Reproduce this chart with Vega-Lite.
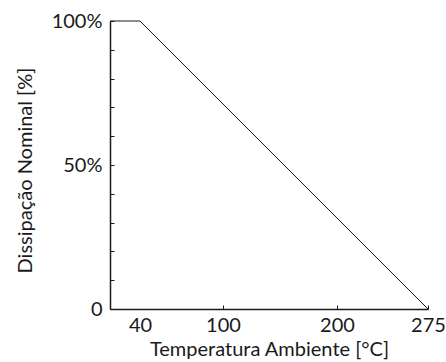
{
  "$schema": "https://vega.github.io/schema/vega-lite/v6.json",
  "width": 318,
  "height": 288,
  "autosize": {"type": "none"},
  "padding": {"left": 110, "top": 21, "right": 18, "bottom": 53},
  "background": "white",
  "config": {
    "view": {"stroke": null},
    "font": "Lato",
    "axis": {
      "grid": false,
      "domainColor": "#1a1a1a",
      "domainWidth": 1.5,
      "tickColor": "#1a1a1a",
      "tickWidth": 1,
      "labelFont": "Lato",
      "labelFontSize": 20,
      "labelColor": "#1a1a1a",
      "titleFont": "Lato",
      "titleFontSize": 20,
      "titleFontWeight": "normal",
      "titleColor": "#1a1a1a"
    }
  },
  "data": {
    "values": [
      {"temp": 25, "pct": 100},
      {"temp": 40, "pct": 100},
      {"temp": 275, "pct": 0}
    ]
  },
  "mark": {"type": "line", "color": "#1a1a1a", "strokeWidth": 1, "clip": false},
  "encoding": {
    "x": {
      "field": "temp",
      "type": "quantitative",
      "scale": {"domain": [25, 40, 100, 200, 275], "range": [0, 30, 113, 227, 318]},
      "axis": {
        "title": "Temperatura Ambiente [°C]",
        "values": [40, 100, 200, 275],
        "tickSize": -4,
        "tickColor": {"condition": {"test": "datum.value == 40", "value": "transparent"}, "value": "#1a1a1a"},
        "labelPadding": 10,
        "titlePadding": 4,
        "labelFlush": false,
        "labelOverlap": false
      }
    },
    "y": {
      "field": "pct",
      "type": "quantitative",
      "scale": {"domain": [0, 100], "nice": false},
      "axis": {
        "title": "Dissipação Nominal [%]",
        "titleFontSize": 20,
        "titleY": 149,
        "values": [0, 10, 20, 30, 40, 50, 60, 70, 80, 90, 100],
        "labelExpr": "datum.value == 0 ? '0' : (datum.value == 50 || datum.value == 100) ? datum.value + '%' : ''",
        "tickSize": -4,
        "labelPadding": 12,
        "titlePadding": 16,
        "labelFlush": false,
        "labelOverlap": false
      }
    }
  }
}
